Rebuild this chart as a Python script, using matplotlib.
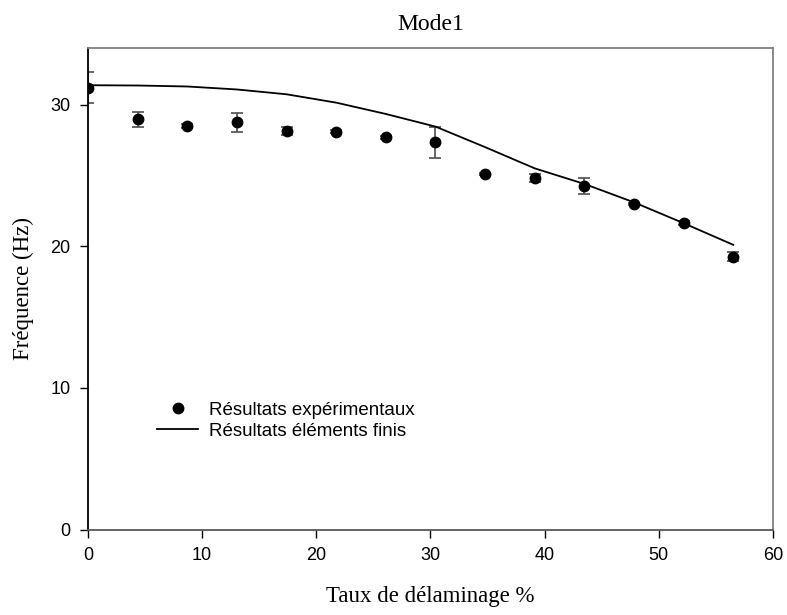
import matplotlib

matplotlib.use("Agg")
import matplotlib.pyplot as plt
import numpy as np

# Taux de délaminage (%) — pas de 100/23
TAUX = np.array([0.0, 4.35, 8.70, 13.04, 17.39, 21.74, 26.09,
                 30.43, 34.78, 39.13, 43.48, 47.83, 52.17, 56.52])
# Fréquences mesurées (Hz) et écarts
FREQ_EXP = np.array([31.2, 28.95, 28.5, 28.75, 28.15, 28.1, 27.68,
                     27.35, 25.1, 24.82, 24.25, 22.98, 21.63, 19.27])
ERR_EXP = np.array([1.1, 0.5, 0.15, 0.65, 0.3, 0.1, 0.12,
                    1.1, 0.1, 0.25, 0.55, 0.1, 0.15, 0.3])
# Fréquences éléments finis (Hz)
FREQ_EF = np.array([31.37, 31.35, 31.28, 31.07, 30.73, 30.14, 29.34,
                    28.45, 27.0, 25.5, 24.4, 23.1, 21.63, 20.1])

SERIF = ["Liberation Serif", "DejaVu Serif"]
SANS = ["Liberation Sans", "DejaVu Sans"]

fig = plt.figure(figsize=(7.87, 6.15), dpi=100)
ax = fig.add_axes([0.1118, 0.139, 0.8704, 0.783])

ax.errorbar(TAUX, FREQ_EXP, yerr=ERR_EXP, fmt="none", ecolor="0.3",
            elinewidth=1.2, capsize=4.5, capthick=1.2, zorder=2)
ax.plot(TAUX, FREQ_EXP, "o", color="black", ms=7.5,
        label="Résultats expérimentaux", zorder=3)
ax.plot(TAUX, FREQ_EF, "-", color="black", lw=1.3,
        label="Résultats éléments finis", zorder=2)

ax.set_xlim(0, 60)
ax.set_ylim(0, 34)
ax.set_xticks(np.arange(0, 61, 10))
ax.set_yticks(np.arange(0, 31, 10))
ax.tick_params(direction="out", length=5.5, width=1, labelsize=13, pad=7)
for lab in ax.get_xticklabels() + ax.get_yticklabels():
    lab.set_family(SANS)

ax.spines["left"].set_color("black")
ax.spines["bottom"].set_color("0.35")
ax.spines["top"].set_color("0.5")
ax.spines["right"].set_color("0.5")
for s in ax.spines.values():
    s.set_linewidth(1.3)

ax.set_title("Mode1", family=SERIF, fontsize=17, pad=13)
ax.set_xlabel("Taux de délaminage %", family=SERIF, fontsize=16.5, labelpad=16)
ax.set_ylabel("Fréquence (Hz)", family=SERIF, fontsize=16.5, labelpad=12)

ax.legend(loc="upper left", bbox_to_anchor=(0.076, 0.30), frameon=False,
          prop={"family": SANS, "size": 13.5}, handlelength=2.2,
          handletextpad=0.6, labelspacing=0.2)

fig.savefig("out.png", dpi=100)
